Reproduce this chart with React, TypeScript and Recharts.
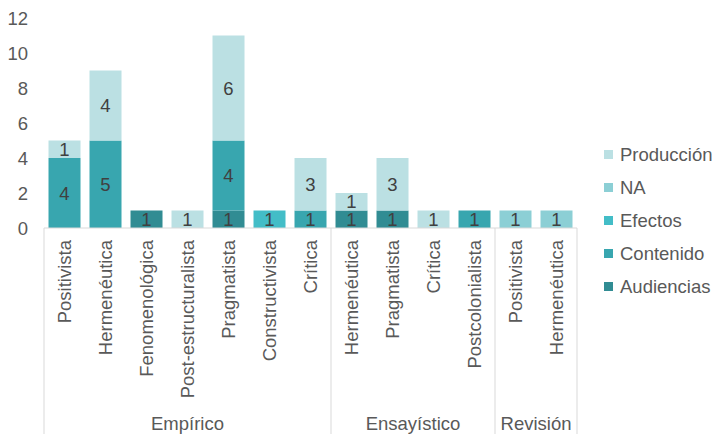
import { BarChart, Bar, XAxis, YAxis, LabelList } from 'recharts';

const categories = [
  'Positivista', 'Hermenéutica', 'Fenomenológica', 'Post-estructuralista', 'Pragmatista', 'Constructivista', 'Crítica',
  'Hermenéutica', 'Pragmatista', 'Crítica', 'Postcolonialista',
  'Positivista', 'Hermenéutica',
];
const groups = ['Empírico', 'Ensayístico', 'Revisión'];
const groupSizes = [7, 4, 2];

const audiencias = [null, null, 1, null, 1, null, null, 1, 1, null, null, null, null];
const contenido = [4, 5, null, null, 4, null, 1, null, null, null, 1, null, null];
const efectos = [null, null, null, null, null, 1, null, null, null, null, null, null, null];
const na = [null, null, null, null, null, null, null, null, null, null, null, 1, 1];
const produccion = [1, 4, null, 1, 6, null, 3, 1, 3, 1, null, null, null];

const yTicks = [0, 2, 4, 6, 8, 10, 12];

const series = [
  { key: 'Audiencias', values: audiencias, color: '#318C93' },
  { key: 'Contenido', values: contenido, color: '#38A6AF' },
  { key: 'Efectos', values: efectos, color: '#43BDC7' },
  { key: 'NA', values: na, color: '#8CCFD5' },
  { key: 'Producción', values: produccion, color: '#BBE0E3' },
];

const data = categories.map((name, i) => {
  const row: Record<string, any> = { id: i, name };
  series.forEach((s) => {
    row[s.key] = s.values[i];
  });
  return row;
});

const FONT = '"Liberation Sans", Arial, sans-serif';
const FS = 18.5;
const LINE = '#D9D9D9';

// index of the first category in each group
const groupStart: number[] = [];
let acc = 0;
groupSizes.forEach((n) => {
  groupStart.push(acc);
  acc += n;
});

function CategoryTick(props: any) {
  const { x, y, index, width, visibleTicksCount } = props;
  const band = width && visibleTicksCount ? width / visibleTicksCount : 41;
  const g = groupStart.indexOf(index);
  const last = index === categories.length - 1;
  return (
    <g>
      <text
        x={x}
        y={y + 12}
        transform={`rotate(-90, ${x}, ${y + 12})`}
        textAnchor="end"
        dominantBaseline="central"
        fill="#595959"
        fontSize={FS}
        fontFamily={FONT}
      >
        {categories[index]}
      </text>
      {g >= 0 && (
        <>
          <line x1={x - band / 2} x2={x - band / 2} y1={y} y2={y + 210} stroke={LINE} />
          <text
            x={x - band / 2 + (groupSizes[g] * band) / 2}
            y={y + 195}
            textAnchor="middle"
            dominantBaseline="central"
            fill="#595959"
            fontSize={FS}
            fontFamily={FONT}
          >
            {groups[g]}
          </text>
        </>
      )}
      {last && <line x1={x + band / 2} x2={x + band / 2} y1={y} y2={y + 210} stroke={LINE} />}
    </g>
  );
}

export default function App() {
  return (
    <div style={{ position: 'absolute', left: 0, top: 0, width: 716, height: 434, background: '#fff', fontFamily: FONT }}>
      <BarChart
        width={716}
        height={434}
        data={data}
        barCategoryGap="11%"
        margin={{ top: 18, right: 139, left: 0, bottom: 0 }}
      >
        <XAxis
          dataKey="id"
          type="category"
          height={206}
          axisLine={{ stroke: LINE }}
          tickLine={false}
          tickSize={0}
          tickMargin={0}
          interval={0}
          tick={<CategoryTick />}
        />
        <YAxis
          width={44}
          domain={[0, 12]}
          ticks={yTicks}
          axisLine={false}
          tickLine={false}
          tickSize={0}
          tickMargin={16}
          tick={{ fill: '#595959', fontSize: FS, fontFamily: FONT }}
        />
        {series.map((s) => (
          <Bar key={s.key} dataKey={s.key} stackId="a" fill={s.color} isAnimationActive={false}>
            <LabelList
              dataKey={s.key}
              position="center"
              formatter={(v: any) => (v ? v : '')}
              fill="#404040"
              fontSize={FS}
              fontFamily={FONT}
            />
          </Bar>
        ))}
      </BarChart>
      <div style={{ position: 'absolute', left: 604, top: 138 }}>
        {[...series].reverse().map((s) => (
          <div key={s.key} style={{ display: 'flex', alignItems: 'center', height: 33 }}>
            <span style={{ width: 9, height: 9, background: s.color, marginRight: 7 }} />
            <span style={{ fontSize: FS, color: '#595959' }}>{s.key}</span>
          </div>
        ))}
      </div>
    </div>
  );
}
